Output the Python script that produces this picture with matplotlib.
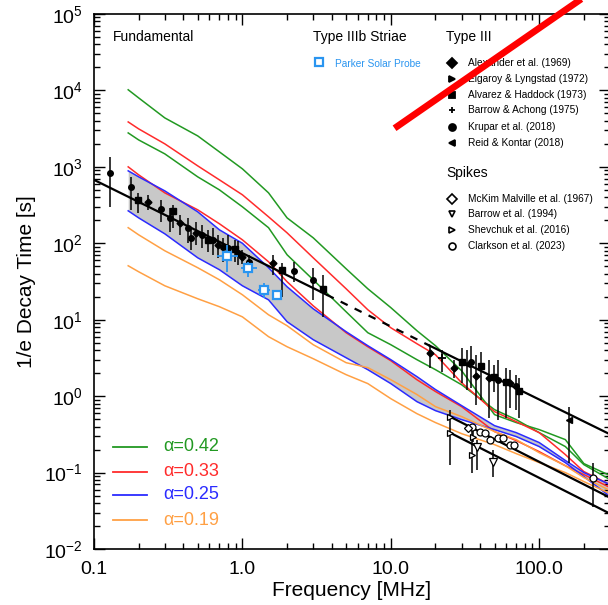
import numpy as np
import matplotlib.pyplot as plt
from matplotlib.ticker import FixedLocator, FixedFormatter, LogLocator, NullFormatter

plt.rcParams['font.family'] = ['Liberation Sans', 'DejaVu Sans']
plt.rcParams['mathtext.fontset'] = 'custom'
plt.rcParams['mathtext.rm'] = 'Liberation Sans'
plt.rcParams['mathtext.it'] = 'Liberation Sans:italic'
plt.rcParams['mathtext.default'] = 'regular'

# ---- model decay times [s] on a common frequency grid [MHz] ----
freq = [0.17, 0.2, 0.3, 0.5, 0.7, 1.0, 1.5, 2, 3, 5, 7, 10, 15, 20, 30, 50, 70, 100, 150, 200, 300]

green_hi = [1.02e4, 7980, 4370, 2540, 1570, 942, 457, 215, 118, 46.4, 25.4, 14.4, 7.18, 4.57, 2.15,
            0.573, 0.451, 0.365, 0.270, 0.131, 0.0914]
green_lo = [2780, 2250, 1479, 740, 500, 300, 160, 70.8, 33.3, 12.7, 6.76, 4.71, 3.0, 2.22, 1.41,
            0.666, 0.493, 0.333, 0.219, 0.127, 0.081]
red_hi = [3870, 3140, 2000, 1030, 676, 431, 222, 137, 64.6, 25.4, 13.5, 7.85, 4.85, 3.48, 1.50,
          0.627, 0.464, 0.333, 0.172, 0.103, 0.0697]
red_lo = [1000, 786, 457, 274, 180, 111, 57.3, 31.4, 15.2, 6.76, 4.43, 2.91, 1.64, 1.15, 0.729,
          0.344, 0.262, 0.188, 0.123, 0.0942, 0.0637]
blue_hi = [887, 740, 485, 258, 150, 100, 47.9, 27.0, 13.9, 6.97, 4.57, 3.0, 1.80, 1.22, 0.752,
           0.411, 0.333, 0.247, 0.144, 0.1, 0.0697]
blue_lo = [266, 215, 133, 64.6, 45.1, 27.8, 18.2, 9.42, 5.48, 3.18, 2.22, 1.46, 0.847, 0.646, 0.493,
           0.365, 0.296, 0.219, 0.135, 0.0887, 0.0486]
orange_hi = [160, 129, 79.8, 47.9, 33.3, 21.2, 11.6, 8.35, 4.71, 2.74, 2.36, 1.64, 1.05, 0.729, 0.540,
             0.344, 0.270, 0.182, 0.123, 0.0861, 0.0582]
orange_lo = [50.8, 42.4, 27.8, 18.8, 14.8, 10.9, 6.0, 4.43, 3.09, 1.91, 1.46, 0.927, 0.590, 0.451, 0.323,
             0.232, 0.177, 0.135, 0.1, 0.0762, 0.0531]

alphas = ['0.42', '0.33', '0.25', '0.19']
colors = ['#229922', '#ff2b2b', '#2b2bff', '#ffa044']

# ---- power-law fits ----
fit_f = [0.1, 3.7, 18.3, 300]
fit_t = [676, 21.2, 4.57, 0.317]
spk_f = [25, 300]
spk_hi_t = [0.54, 0.047]
spk_lo_t = [0.333, 0.029]

# ---- Type III observations: freq, tau, lower, upper ----
alex_f = [0.231, 0.380, 0.487, 0.684, 1.0, 1.60, 18.3, 26.5, 37.4, 45.7, 63.2]
alex_t = [349, 185, 137, 95.5, 66.7, 55.6, 3.7, 2.36, 1.85, 1.75, 1.50]
alex_lo = [274, 129, 95.5, 64.6, 54, 38.7, 2.36, 1.75, 0.774, 0.524, 0.708]
alex_hi = [431, 236, 191, 129, 82.2, 70.8, 4.71, 3.0, 3.48, 3.0, 2.22]

alv_f = [0.198, 0.340, 0.586, 0.890, 1.85, 3.48, 30.1, 40.4, 49.4, 59.4, 72.8]
alv_t = [371, 266, 111, 84.7, 45.1, 25.4, 2.82, 2.5, 1.80, 1.55, 1.18]
alv_lo = [250, 160, 77.4, 57.3, 20.0, 10.9, 1.50, 0.9, 1.15, 0.524, 0.524]
alv_hi = [457, 318, 150, 111, 55.6, 38.7, 4.3, 3.82, 2.58, 2.36, 1.75]

bar_f = [22.0]
bar_t = [3.18]
bar_lo = [2.09]
bar_hi = [4.05]

kru_f = [0.128, 0.177, 0.283, 0.325, 0.430, 0.450, 0.533, 0.633, 0.740, 0.798, 0.933, 1.11,
         2.22, 2.98, 34.6, 52.6, 69.5]
kru_t = [835, 548, 282, 215, 160, 118, 129, 111, 90, 87.3, 75.2, 57.3, 43.7, 33.3, 2.82, 1.64, 1.37]
kru_lo = [300, 274, 191, 141, 100, 82.2, 87.3, 70.8, 57.3, 60.8, 52.4, 47.9, 31.4, 18.2, 1.29, 0.493, 0.666]
kru_hi = [1352, 740, 371, 291, 215, 160, 175, 160, 118, 129, 108, 70.8, 57.3, 47.9, 4.57, 3.0, 1.91]

reid_f = [32.5, 160]
reid_t = [2.66, 0.493]
reid_lo = [1.22, 0.135]
reid_hi = [4.05, 0.729]

# ---- spikes ----
shev_f = [25, 25, 35.6, 35]
shev_t = [0.54, 0.333, 0.296, 0.172]
shev_lo = [0.45, 0.127, 0.25, 0.1]
shev_hi = [0.65, 0.45, 0.35, 0.399]

barrow_f = [37.9, 48.6]
barrow_t = [0.219, 0.139]
barrow_lo = [0.107, 0.0887]
barrow_hi = [0.27, 0.2]

mck_f = [33.0]
mck_t = [0.387]

clark_f = [35.1, 39.7, 43.0, 46.4, 52.6, 56.7, 63.2, 67.3, 229]
clark_t = [0.399, 0.344, 0.333, 0.270, 0.287, 0.287, 0.232, 0.232, 0.0861]
clark_lo = [0.399, 0.344, 0.333, 0.270, 0.287, 0.287, 0.232, 0.232, 0.0359]
clark_hi = [0.399, 0.344, 0.333, 0.270, 0.287, 0.287, 0.232, 0.232, 0.135]

# ---- Parker Solar Probe type IIIb striae ----
psp_f = [0.787, 1.09, 1.40, 1.71]
psp_t = [68.7, 47.9, 24.7, 21.2]
psp_f_lo = [0.673, 0.977, 1.27, 1.65]
psp_f_hi = [0.933, 1.25, 1.53, 1.78]
psp_t_lo = [42.4, 36.5, 19.4, 18.2]
psp_t_hi = [95.5, 57.3, 30.5, 24.7]
psp_col = '#2a95f0'

# red strike across the upper right
strike_f = [10.6, 255]
strike_t = [3.2e3, 2.3e5]


def yerr(t, lo, hi):
    t = np.asarray(t)
    return [t - np.asarray(lo), np.asarray(hi) - t]


fig = plt.figure(figsize=(6.08, 6.05), dpi=100)
ax = fig.add_axes([94 / 608, 56 / 605, 516 / 608, 535 / 605])

ax.fill_between(freq, blue_lo, blue_hi, color='#c8c8c8', lw=0, zorder=1)
for hi, lo, c in zip([green_hi, red_hi, blue_hi, orange_hi], [green_lo, red_lo, blue_lo, orange_lo], colors):
    ax.plot(freq, hi, color=c, lw=1.1, zorder=2)
    ax.plot(freq, lo, color=c, lw=1.1, zorder=2)

ax.plot(fit_f[:2], fit_t[:2], color='k', lw=1.6, zorder=4)
ax.plot(fit_f[1:3], fit_t[1:3], color='k', lw=1.6, dashes=(3.5, 3.5), zorder=4)
ax.plot(fit_f[2:], fit_t[2:], color='k', lw=1.6, zorder=4)
ax.plot(spk_f, spk_hi_t, color='k', lw=1.6, zorder=4)
ax.plot(spk_f, spk_lo_t, color='k', lw=1.6, zorder=4)

ebkw = dict(ls='none', ecolor='k', elinewidth=1.1, capsize=0, zorder=5)
ax.errorbar(alex_f, alex_t, yerr=yerr(alex_t, alex_lo, alex_hi), marker='D', ms=3.5, mfc='k', mec='k', **ebkw)
ax.errorbar(alv_f, alv_t, yerr=yerr(alv_t, alv_lo, alv_hi), marker='s', ms=5, mfc='k', mec='k', **ebkw)
ax.errorbar(bar_f, bar_t, yerr=yerr(bar_t, bar_lo, bar_hi), marker='+', ms=6, mew=1.3, mec='k', **ebkw)
ax.errorbar(kru_f, kru_t, yerr=yerr(kru_t, kru_lo, kru_hi), marker='o', ms=4, mfc='k', mec='k', **ebkw)
ax.errorbar(reid_f, reid_t, yerr=yerr(reid_t, reid_lo, reid_hi), marker='<', ms=4.5, mfc='k', mec='k', **ebkw)

ax.errorbar(shev_f, shev_t, yerr=yerr(shev_t, shev_lo, shev_hi), marker='>', ms=5, mfc='w', mec='k', mew=0.9, **ebkw)
ax.errorbar(barrow_f, barrow_t, yerr=yerr(barrow_t, barrow_lo, barrow_hi), marker='v', ms=5.5, mfc='w', mec='k', mew=0.9, **ebkw)
ax.plot(mck_f, mck_t, ls='none', marker='D', ms=4.5, mfc='w', mec='k', mew=0.9, zorder=6)
ax.errorbar(clark_f, clark_t, yerr=yerr(clark_t, clark_lo, clark_hi), marker='o', ms=5, mfc='w', mec='k', mew=0.9, **ebkw)

ax.errorbar(psp_f, psp_t,
            xerr=[np.subtract(psp_f, psp_f_lo), np.subtract(psp_f_hi, psp_f)],
            yerr=yerr(psp_t, psp_t_lo, psp_t_hi),
            ls='none', marker='s', ms=6, mfc='w', mec=psp_col, mew=1.6,
            ecolor=psp_col, elinewidth=1.3, capsize=0, zorder=7)

ax.plot(strike_f, strike_t, color='#ff0000', lw=4.8, solid_capstyle='butt', clip_on=False, zorder=20)

ax.set_xscale('log')
ax.set_yscale('log')
ax.set_xlim(0.1, 300)
ax.set_ylim(1e-2, 1e5)
ax.xaxis.set_major_locator(FixedLocator([0.1, 1, 10, 100]))
ax.xaxis.set_major_formatter(FixedFormatter(['0.1', '1.0', '10.0', '100.0']))
ax.xaxis.set_minor_locator(LogLocator(base=10, subs=np.arange(2, 10)))
ax.xaxis.set_minor_formatter(NullFormatter())
ax.yaxis.set_major_locator(LogLocator(base=10, numticks=10))
ax.yaxis.set_minor_locator(LogLocator(base=10, subs=np.arange(2, 10), numticks=10))
ax.yaxis.set_minor_formatter(NullFormatter())
ax.tick_params(which='both', direction='in', top=True, right=True, width=1, labelsize=14)
ax.tick_params(which='major', length=8)
ax.tick_params(which='minor', length=4)
ax.tick_params(axis='x', pad=9)
ax.tick_params(axis='y', pad=8)
for s in ax.spines.values():
    s.set_linewidth(1.2)

ax.set_xlabel('Frequency [MHz]', fontsize=15, labelpad=2)
ax.set_ylabel('1/e Decay Time [s]', fontsize=15, labelpad=6)

# annotations and legends
ax.text(0.037, 0.957, 'Fundamental', transform=ax.transAxes, fontsize=10, va='center')
ax.text(0.424, 0.957, 'Type IIIb Striae', transform=ax.transAxes, fontsize=10, va='center')
ax.plot([0.436], [0.910], transform=ax.transAxes, marker='s', ms=6, mfc='w', mec=psp_col, mew=1.6, ls='none')
ax.text(0.467, 0.907, 'Parker Solar Probe', transform=ax.transAxes, fontsize=7.3, color=psp_col, va='center')

ax.text(0.682, 0.957, 'Type III', transform=ax.transAxes, fontsize=10, va='center')
t3_labels = ['Alexander et al. (1969)', 'Elgaroy & Lyngstad (1972)', 'Alvarez & Haddock (1973)',
             'Barrow & Achong (1975)', 'Krupar et al. (2018)', 'Reid & Kontar (2018)']
t3_marks = ['D', '>', 's', '+', 'o', '<']
t3_y = [0.908, 0.878, 0.849, 0.821, 0.789, 0.759]
for lab, m, y in zip(t3_labels, t3_marks, t3_y):
    ax.plot([0.694], [y], transform=ax.transAxes, marker=m, ms=5, mfc='k', mec='k', mew=1.3, ls='none')
    ax.text(0.725, y, lab, transform=ax.transAxes, fontsize=7.3, va='center')

ax.text(0.682, 0.703, 'Spikes', transform=ax.transAxes, fontsize=10, va='center')
sp_labels = ['McKim Malville et al. (1967)', 'Barrow et al. (1994)', 'Shevchuk et al. (2016)', 'Clarkson et al. (2023)']
sp_marks = ['D', 'v', '>', 'o']
sp_y = [0.654, 0.626, 0.596, 0.566]
for lab, m, y in zip(sp_labels, sp_marks, sp_y):
    ax.plot([0.694], [y], transform=ax.transAxes, marker=m, ms=5, mfc='w', mec='k', mew=1.2, ls='none')
    ax.text(0.725, y, lab, transform=ax.transAxes, fontsize=7.3, va='center')

leg_y = [0.191, 0.144, 0.101, 0.054]
for a, c, y in zip(alphas, colors, leg_y):
    ax.plot([0.037, 0.103], [y, y], transform=ax.transAxes, color=c, lw=1.3)
    ax.text(0.134, y, '\u03b1=' + a, transform=ax.transAxes, fontsize=13, color=c, va='center')

fig.savefig('out.png', dpi=100)
